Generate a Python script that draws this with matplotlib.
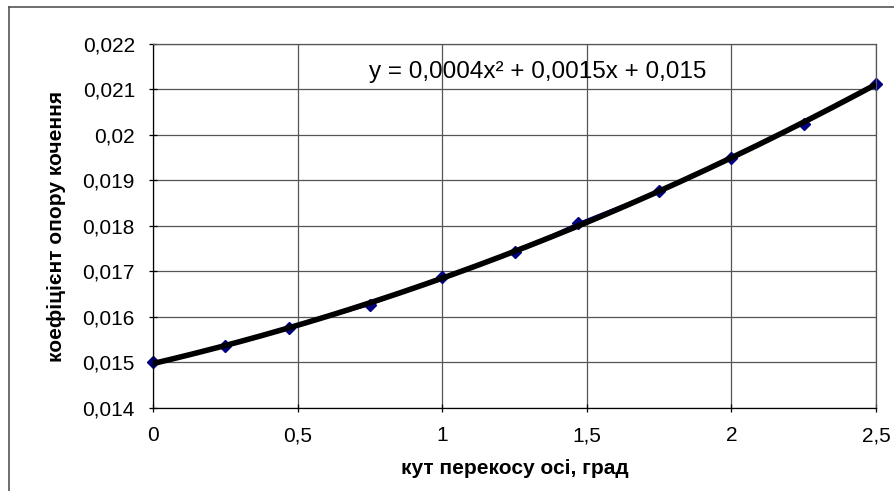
import matplotlib.pyplot as plt
import numpy as np
from matplotlib.lines import Line2D
from matplotlib.ticker import FuncFormatter

# кут перекосу осі, град
angle = [0, 0.25, 0.47, 0.75, 1.0, 1.25, 1.47, 1.75, 2.0, 2.25, 2.5]
# коефіцієнт опору кочення
coef = [0.01500, 0.01537, 0.01575, 0.01626, 0.01687, 0.01742,
        0.01807, 0.01878, 0.01949, 0.02024, 0.02113]

x_ticks = [0, 0.5, 1, 1.5, 2, 2.5]
y_ticks = [0.014, 0.015, 0.016, 0.017, 0.018, 0.019, 0.020, 0.021, 0.022]
equation = "y = 0,0004x² + 0,0015x + 0,015"


def comma(v, pos=None):
    s = ('%.3f' % v).rstrip('0').rstrip('.')
    if s == '':
        s = '0'
    return s.replace('.', ',')


def main():
    plt.rcParams['font.family'] = ['Liberation Sans', 'DejaVu Sans']

    fig = plt.figure(figsize=(8.94, 4.91), dpi=100)
    ax = fig.add_axes([153 / 894, 1 - 408 / 491, (876 - 153) / 894, (408 - 44) / 491])

    # trend line (2nd order polynomial, like the Excel one)
    p = np.polyfit(angle, coef, 2)
    xs = np.linspace(min(angle), max(angle), 200)
    ax.plot(xs, np.polyval(p, xs), color='black', lw=4, zorder=3,
            solid_capstyle='butt')

    ax.plot(angle, coef, color='#000080', lw=1.0, marker='D', ms=6.5,
            mfc='#000080', mec='#000080', zorder=2, clip_on=False)

    ax.set_xlim(0, 2.5)
    ax.set_ylim(0.014, 0.022)
    ax.set_xticks(x_ticks)
    ax.set_yticks(y_ticks)
    ax.xaxis.set_major_formatter(FuncFormatter(comma))
    ax.yaxis.set_major_formatter(FuncFormatter(comma))
    ax.grid(True, color='#555555', lw=0.9)
    ax.set_axisbelow(True)
    for s in ax.spines.values():
        s.set_color('#555555')
        s.set_linewidth(0.9)
    ax.spines['left'].set_color('black')
    ax.spines['bottom'].set_color('black')
    ax.tick_params(axis='both', direction='inout', length=6, width=0.9,
                   labelsize=15, colors='black')
    ax.tick_params(axis='y', pad=10)
    ax.tick_params(axis='x', pad=10)

    ax.set_xlabel('кут перекосу осі, град', fontsize=15, fontweight='bold', labelpad=10)
    ax.set_ylabel('коефіцієнт опору кочення', fontsize=15, fontweight='bold', labelpad=12)

    ax.text(369 / 894, 1 - 78 / 491, equation, transform=fig.transFigure,
            fontsize=17.5, ha='left', va='baseline', color='black')

    # chart area frame (only left and top edges are visible)
    fig.add_artist(Line2D([9 / 894, 9 / 894], [0, 1 - 7 / 491],
                          transform=fig.transFigure, color='#555555', lw=1.2))
    fig.add_artist(Line2D([9 / 894, 1], [1 - 7 / 491, 1 - 7 / 491],
                          transform=fig.transFigure, color='#555555', lw=1.2))

    fig.savefig('out.png', dpi=100)


if __name__ == "__main__":
    main()
